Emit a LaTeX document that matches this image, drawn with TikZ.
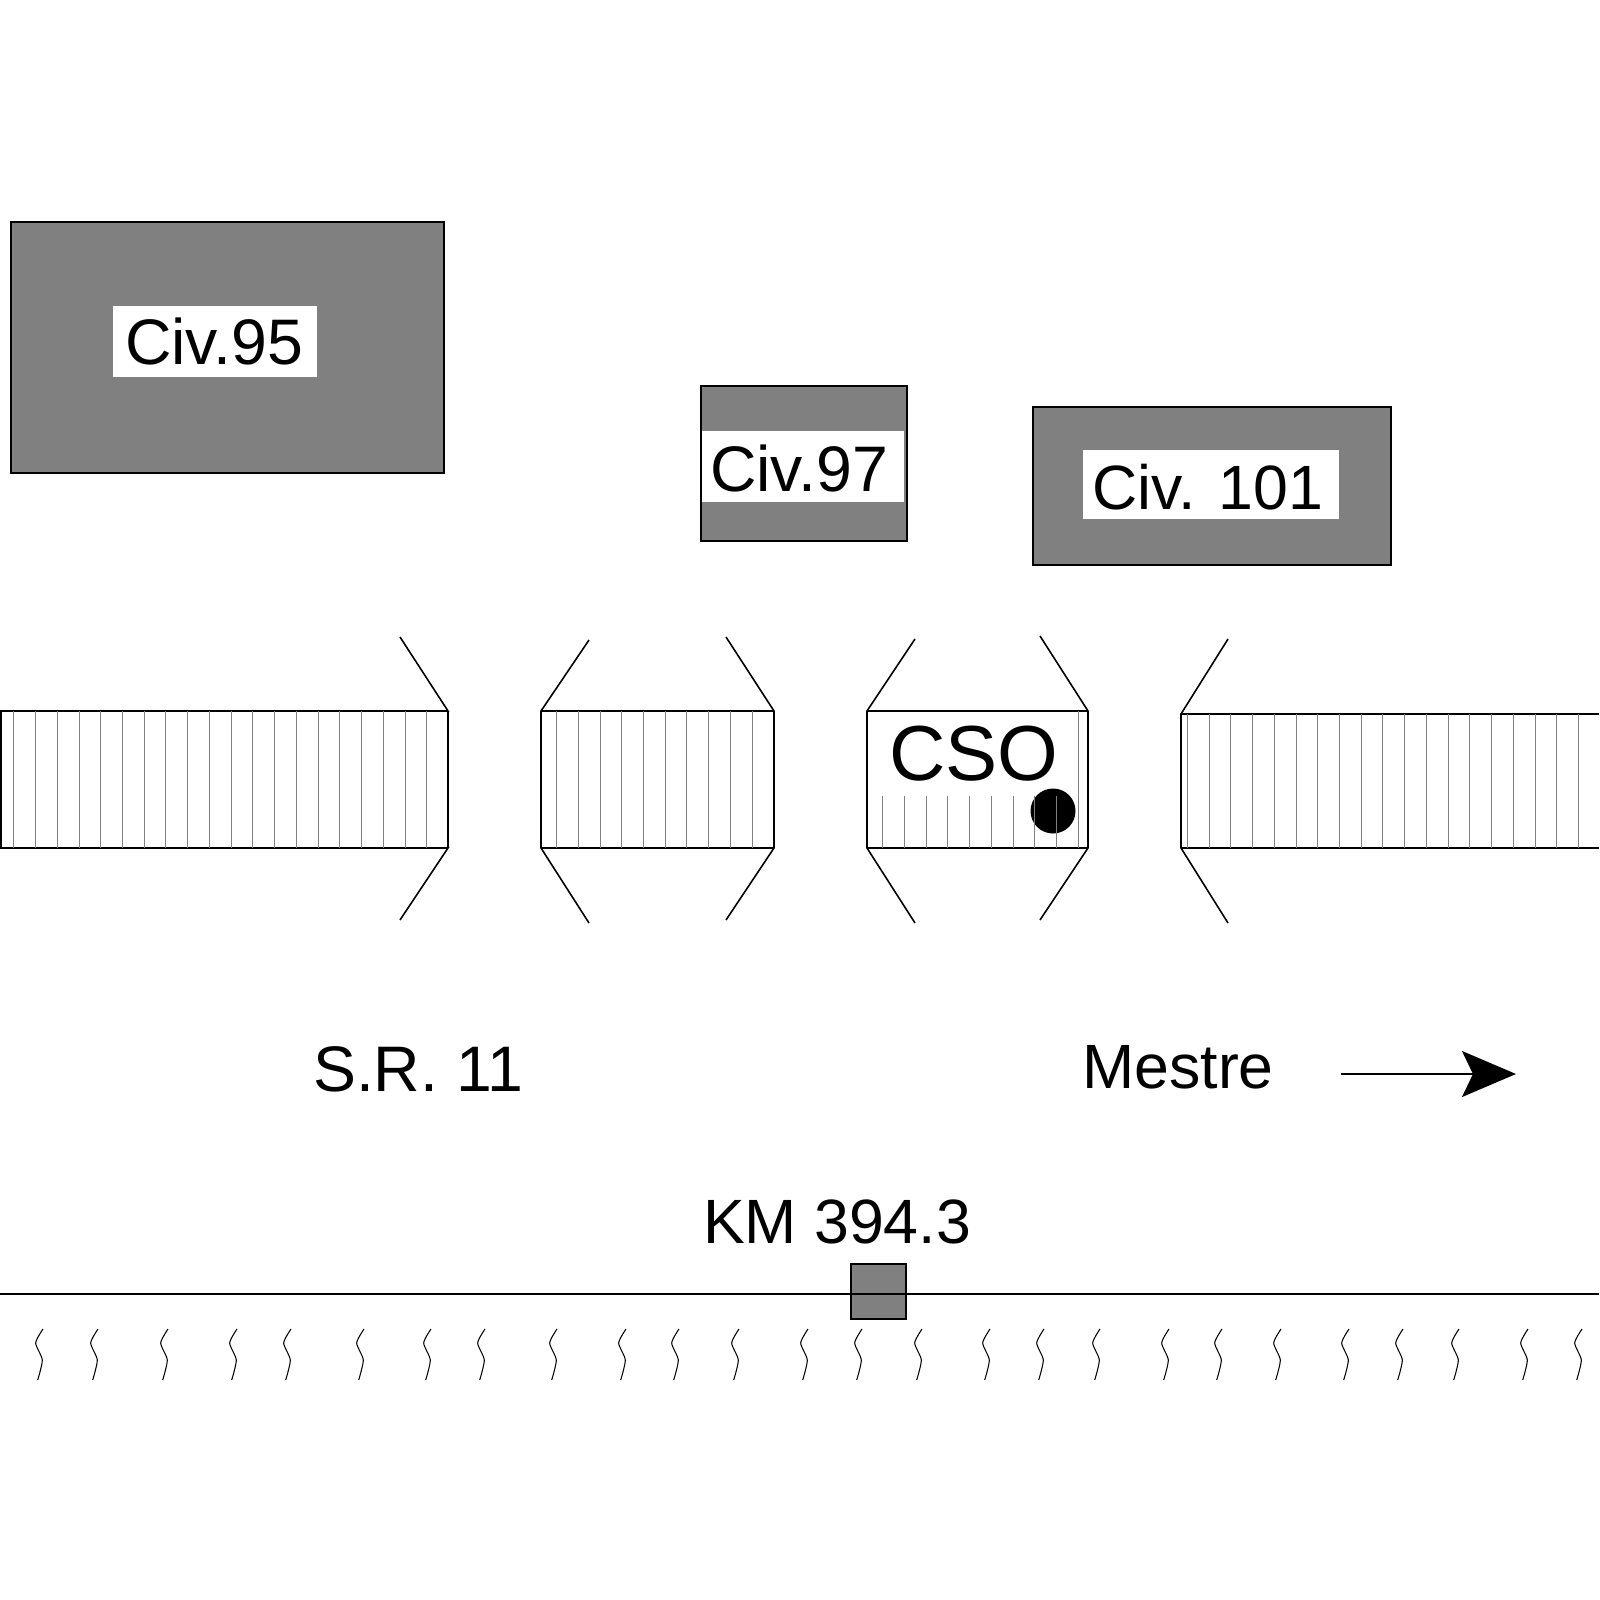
\documentclass[tikz,border=0pt]{standalone}
\usepackage{fontspec}
\setmainfont{Liberation Sans}
\usetikzlibrary{arrows.meta}
\definecolor{buildinggray}{gray}{0.5}
\tikzset{
    outline/.style={black, line width=0.45pt},
    buildingbox/.style={outline, fill=buildinggray},
    hatch/.style={buildinggray, line width=0.32pt},
    squiggle/.style={black, line width=0.3pt},
    maplabel/.style={anchor=base, inner sep=0pt, font=\fontsize{17.8}{20}\selectfont},
    widelabel/.style={maplabel, font=\fontsize{18.3}{20}\selectfont},
}
\begin{document}
\begin{tikzpicture}[x=0.01cm, y=-0.01cm]
    \useasboundingbox (0,0) rectangle (1600,1600);

    \draw[buildingbox] (11,222) rectangle (444,473);
    \draw[buildingbox] (701,386) rectangle (907,541);
    \draw[buildingbox] (1033,407) rectangle (1391,565);
    \fill[white] (113,306) rectangle (317,377);
    \fill[white] (702,431) rectangle (904,502);
    \fill[white] (1083,450) rectangle (1339,519);
    \node[widelabel] (civ95) at (214,364) {Civ.95};
    \node[widelabel] (civ97) at (799,491) {Civ.97};
    \node[maplabel] (civ101) at (1208,509) {Civ. 101};

    \draw[outline] (400,637) -- (448,711) -- (1,711) -- (1,848) -- (448,848) -- (400,920);
    \draw[outline] (448,711) -- (448,848);
    \draw[outline] (589,640) -- (541,711) -- (541,848) -- (589,923);
    \draw[outline] (726,637) -- (774,711) -- (774,848) -- (726,920);
    \draw[outline] (541,711) -- (774,711) (541,848) -- (774,848);
    \draw[outline] (915,639) -- (867,711) -- (867,848) -- (915,923);
    \draw[outline] (1040,636) -- (1088,711) -- (1088,848) -- (1040,920);
    \draw[outline] (867,711) -- (1088,711) (867,848) -- (1088,848);
    \draw[outline] (1228,639) -- (1181,714) -- (1181,848) -- (1228,923);
    \draw[outline] (1181,714) -- (1599,714) (1181,848) -- (1599,848);

    \fill[black] (1053,811) circle (22.5);
    \node[maplabel, font=\fontsize{22.2}{26}\selectfont] (cso) at (974,780) {CSO};

    \foreach \n in {0,...,19}
        \draw[hatch] ({round(13.3+21.74*\n)+0.5},711) -- ++(0,137);
    \foreach \n in {0,...,9}
        \draw[hatch] ({round(556.3+21.7*\n)+0.5},711) -- ++(0,137);
    \foreach \n in {0,...,8}
        \draw[hatch] ({round(882+21.75*\n)+0.5},796) -- ++(0,52);
    \draw[hatch] (1078.5,711) -- (1078.5,848);
    \foreach \n in {0,...,18}
        \draw[hatch] ({round(1187+21.72*\n)+0.5},714) -- ++(0,134);

    \node[widelabel] (road) at (418,1091) {S.R. 11};
    \node[maplabel] (mestre) at (1178,1088) {Mestre};
    \coordinate (arrowstart) at (1341,1074);
    \coordinate (arrowtip) at (1516,1074);
    \draw[outline, -{Stealth[length=0.54cm, width=0.46cm, inset=0.11cm]}] (arrowstart) -- (arrowtip);

    \node[maplabel] (km) at (837,1243) {KM 394.3};
    \draw[buildingbox] (851,1264) rectangle (906,1319);
    \draw[outline] (0,1294) -- (1599,1294);

    \foreach \x in {43,98,168,237,291,364,431,485,557,626,679,739,808,862,922,990,
                    1044,1100,1169,1222,1281,1349,1403,1459,1528,1582}
        \draw[squiggle, shift={(\x,1329)}] plot[smooth, tension=0.4] coordinates {(0,0) (-7.3,14) (-0.7,31) (-5.3,51)};
\end{tikzpicture}
\end{document}
